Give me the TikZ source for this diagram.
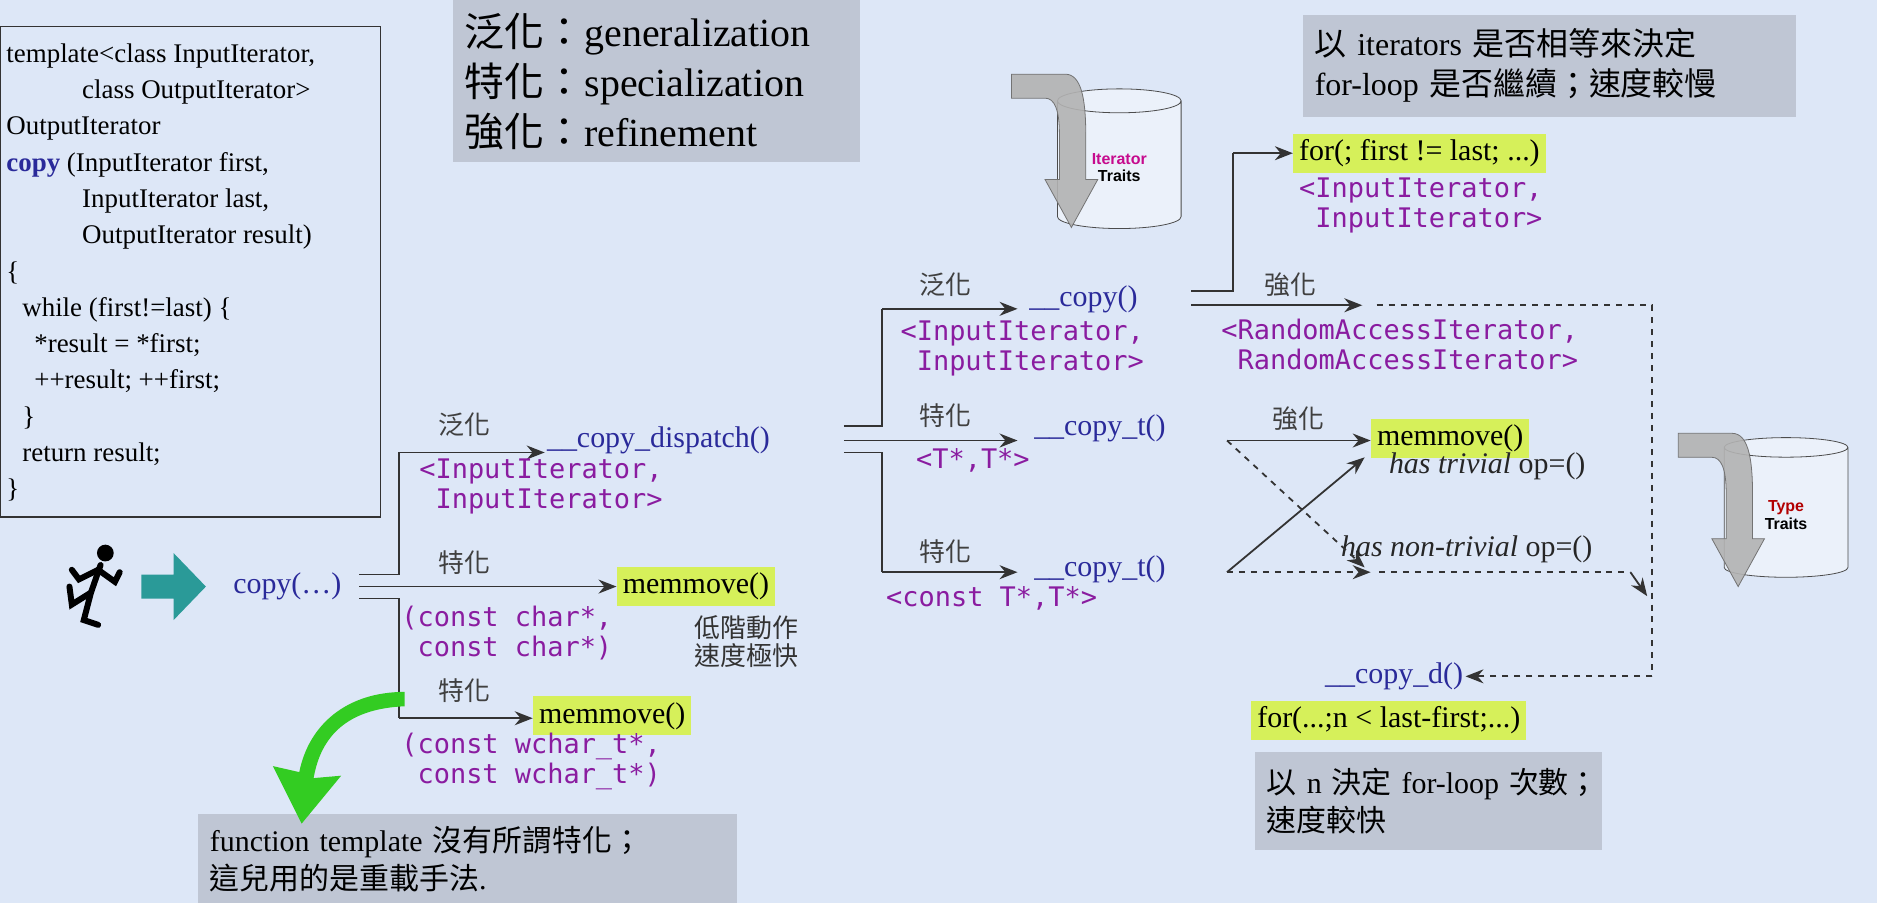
\documentclass[tikz,border=0pt]{standalone}
\usepackage{fontspec}
\setmainfont{Liberation Serif}
\setmonofont{DejaVu Sans Mono}
\setsansfont{Liberation Sans}
\newfontfamily\cjk{Noto Sans CJK TC}
\usetikzlibrary{positioning,shapes.geometric,arrows.meta}

\definecolor{bgblue}{HTML}{DDE7F7}
\definecolor{boxgray}{HTML}{BFC6D4}
\definecolor{hilite}{HTML}{D6F05A}
\definecolor{fnblue}{HTML}{2A2A9A}
\definecolor{tyviolet}{HTML}{8A1CA0}
\definecolor{teal}{HTML}{2A9A98}
\definecolor{lime}{HTML}{33CC22}

\tikzset{
 fn/.style={font=\fontsize{15}{17}\selectfont, text=fnblue, inner sep=1pt},
 hot/.style={fill=hilite, font=\fontsize{15}{17}\selectfont, inner sep=3pt},
 ty/.style={font=\ttfamily\fontsize{13.5}{15}\selectfont, text=tyviolet, align=left, inner sep=0pt},
 kind/.style={font=\cjk\fontsize{13}{15}\selectfont, text=black!75, inner sep=0pt},
 note/.style={fill=boxgray, align=left, inner sep=6pt},
 flow/.style={-{Stealth[length=9pt,width=7pt]}, line width=0.9pt, draw=black!80},
 wire/.style={line width=0.9pt, draw=black!80},
 maybe/.style={flow, dashed},
 traits/.style={cylinder, shape border rotate=90, aspect=0.35, draw=black!70,
   fill=bgblue!60!white, minimum width=62pt, minimum height=70pt,
   font=\sffamily\bfseries\fontsize{8}{9}\selectfont, align=center}
}

\begin{document}
\begin{tikzpicture}[x=0.6pt,y=-0.6pt]
\fill[bgblue] (0,0) rectangle (1568,754);
\useasboundingbox (0,0) rectangle (1568,754);

% source of copy()
\draw[black!80, line width=0.8pt] (0,22) rectangle (318,432);
\node[anchor=north west, align=left, inner sep=0pt,
      font=\fontsize{13.5}{18.2}\selectfont] (code) at (5,36)
 {template<class InputIterator,\\
  \hspace*{38pt}class OutputIterator>\\
  OutputIterator\\
  \textcolor{fnblue}{\textbf{copy}} (InputIterator first,\\
  \hspace*{38pt}InputIterator last,\\
  \hspace*{38pt}OutputIterator result)\\
  \{\\
  \hspace*{8pt}while (first!=last) \{\\
  \hspace*{14pt}*result = *first;\\
  \hspace*{14pt}++result; ++first;\\
  \hspace*{8pt}\}\\
  \hspace*{8pt}return result;\\
  \}};

% notes
\node[note, anchor=north west, text width=192pt, minimum height=81pt,
      font=\fontsize{20}{25}\selectfont] (terms) at (378,0)
 {{\cjk 泛化：}generalization\\ {\cjk 特化：}specialization\\ {\cjk 強化：}refinement};
\node[note, anchor=north west, text width=235pt, minimum height=51pt,
      font=\fontsize{16}{20}\selectfont] (slow) at (1088,12)
 {{\cjk 以} iterators {\cjk 是否相等來決定}\\ for-loop {\cjk 是否繼續；速度較慢}};
\node[note, anchor=north west, text width=162pt, minimum height=49pt,
      font=\fontsize{15}{19}\selectfont] (fast) at (1048,628)
 {\mbox{{\cjk 以} n {\cjk 決定} for-loop {\cjk 次數；}}\\ {\cjk 速度較快}};
\node[note, anchor=north west, text width=258pt, minimum height=44pt,
      font=\fontsize{15}{19}\selectfont] (over) at (165,680)
 {function template {\cjk 沒有所謂特化；}\\ {\cjk 這兒用的是重載手法}.};

% traits drums
\node[traits] (itr) at (935,140) {\textcolor{magenta!80!blue}{Iterator}\\ Traits};
\node[traits] (tyt) at (1492,430) {\textcolor{red!70!black}{Type}\\ Traits};
\foreach \cx/\cy in {895/62, 1452/362} {
 \fill[black!30, draw=black!55, fill opacity=0.9] (\cx-50,\cy) -- (\cx-5,\cy)
   .. controls (\cx+8,\cy) and (\cx+12,\cy+20) .. (\cx+12,\cy+50) -- (\cx+12,\cy+88)
   -- (\cx+22,\cy+88) -- (\cx,\cy+128) -- (\cx-22,\cy+88) -- (\cx-10,\cy+88) -- (\cx-10,\cy+50)
   .. controls (\cx-10,\cy+30) and (\cx-14,\cy+20) .. (\cx-22,\cy+20) -- (\cx-50,\cy+20) -- cycle;
}

% runner
\begin{scope}[line width=3pt, line cap=round, black]
 \fill (88,462) circle (7);
 \draw (84,472) -- (76,495) -- (70,518) -- (82,522);
 \draw (76,495) -- (60,505) -- (58,490);
 \draw (82,476) -- (96,486) -- (100,478);
 \draw (82,476) -- (66,484) -- (60,476);
\end{scope}
\fill[teal] (118,480) -- (145,480) -- (145,462) -- (172,490) -- (145,518) -- (145,500)
  -- (118,500) -- cycle;

% first level
\node[fn] (copy) at (240,490) {copy(\dots)};
\coordinate (c0) at (300,480);
\coordinate (c1) at (300,490);
\coordinate (c2) at (300,500);
\node[fn, anchor=west] (disp) at (455,368) {\_\_copy\_dispatch()};
\node[hot, anchor=west] (mmc) at (515,490) {memmove()};
\node[hot, anchor=west] (mmw) at (445,598) {memmove()};
\draw[wire] (c0) -| (333,378);
\draw[flow] (333,378) -- (disp.west |- 0,378);
\draw[flow] (c1) -- (mmc.west);
\draw[wire] (c2) -| (333,600);
\draw[flow] (333,600) -- (mmw.west |- 0,600);
\node[kind] (g1) at (388,355) {泛化};
\node[ty, anchor=north west] (t1) at (350,383) {<InputIterator,\\ \ InputIterator>};
\node[kind] (s1) at (388,470) {特化};
\node[ty, anchor=north west] (t2) at (335,506) {(const char*,\\ \ const char*)};
\node[kind, anchor=north west, align=left, text=black!80] (low) at (580,514) {低階動作\\[-1pt]速度極快};
\node[kind] (s2) at (388,577) {特化};
\node[ty, anchor=north west] (t3) at (335,612) {(const wchar\_t*,\\ \ const wchar\_t*)};

% green hint arrow
\fill[lime] (338,590) .. controls (290,592) and (268,615) .. (262,650)
  -- (285,648) -- (252,688) -- (228,640) -- (250,645)
  .. controls (258,605) and (290,578) .. (338,578) -- cycle;

% second level
\coordinate (d0) at (705,356);
\coordinate (d1) at (705,368);
\coordinate (d2) at (705,378);
\node[fn, anchor=west] (cp) at (858,250) {\_\_copy()};
\node[fn, anchor=west] (ct1) at (862,358) {\_\_copy\_t()};
\node[fn, anchor=west] (ct2) at (862,476) {\_\_copy\_t()};
\draw[wire] (d0) -| (737,258);
\draw[flow] (737,258) -- (850,258);
\draw[flow] (d1) -- (850,368);
\draw[wire] (d2) -| (737,478);
\draw[flow] (737,478) -- (850,478);
\node[kind] (g2) at (790,238) {泛化};
\node[ty, anchor=north west] (t4) at (752,268) {<InputIterator,\\ \ InputIterator>};
\node[kind] (s3) at (790,347) {特化};
\node[ty, anchor=north west] (t5) at (765,374) {<T*,T*>};
\node[kind] (s4) at (790,461) {特化};
\node[ty, anchor=north west] (t6) at (740,490) {<const T*,T*>};

% third level
\node[hot, anchor=west] (loop1) at (1080,128) {for(; first != last; ...)};
\node[ty, anchor=north west] (t7) at (1085,148) {<InputIterator,\\ \ InputIterator>};
\coordinate (e0) at (995,243);
\coordinate (e1) at (995,255);
\coordinate (ra) at (1138,255);
\draw[wire] (e0) -| (1030,128);
\draw[flow] (1030,128) -- (loop1.west);
\draw[flow] (e1) -- (ra);
\node[kind] (r1) at (1078,238) {強化};
\node[ty, anchor=north west] (t8) at (1020,266) {<RandomAccessIterator,\\ \ RandomAccessIterator>};

\node[hot, anchor=west] (mmt) at (1145,366) {memmove()};
\node[anchor=north west, inner sep=0pt, font=\fontsize{15}{17}\selectfont, text=black!85] (triv) at (1160,378)
 {\textit{has trivial} op=()};
\node[anchor=west, inner sep=0pt, font=\fontsize{15}{17}\selectfont, text=black!85] (ntriv) at (1120,459)
 {\textit{has non-trivial} op=()};
\coordinate (f0) at (1025,368);
\coordinate (f1) at (1025,478);
\node[kind] (r2) at (1085,350) {強化};
\draw[flow] (f0) -- (mmt.west |- f0);
\draw[maybe] (f0) -- (1140,474);
\draw[flow] (f1) -- (1140,382);
\draw[maybe] (f1) -- (1145,478);

% fall back to __copy_d
\node[fn, anchor=west] (cd) at (1105,565) {\_\_copy\_d()};
\node[hot, anchor=north west] (loop2) at (1045,585) {for(...;n < last-first;...)};
\draw[dashed, line width=0.9pt, black!80] (1150,255) -- (1380,255) -- (1380,565);
\draw[maybe] (1380,565) -- (cd.east);
\draw[dashed, line width=0.9pt, black!80] (1152,478) -- (1362,478);
\draw[flow] (1362,478) -- (1376,498);
\end{tikzpicture}
\end{document}
